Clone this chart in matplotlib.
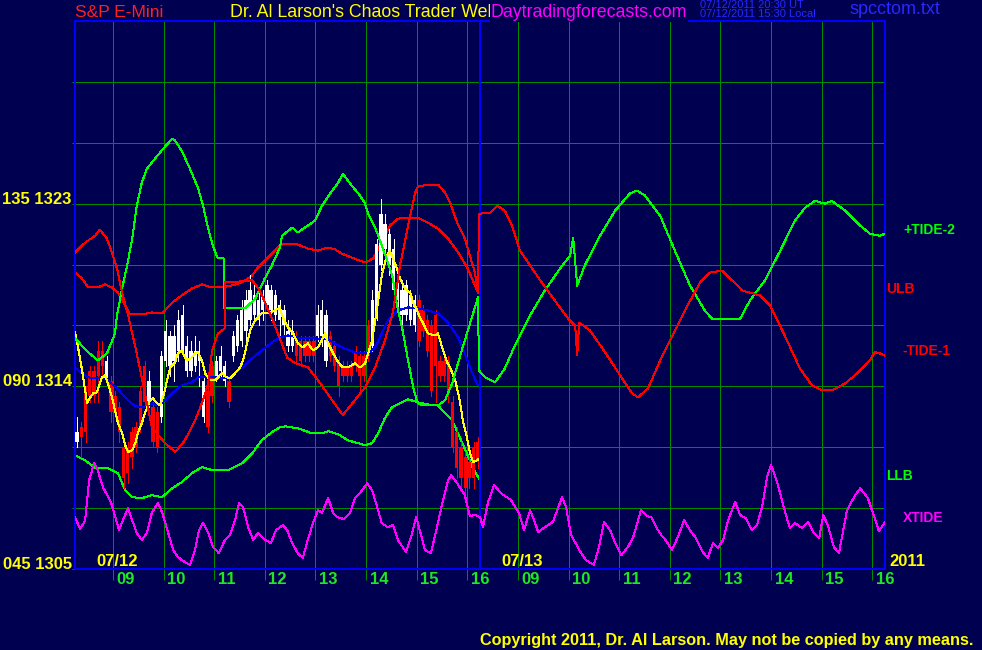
import matplotlib
matplotlib.use("Agg")
import matplotlib.pyplot as plt
from matplotlib.transforms import blended_transform_factory

plt.rcParams['font.family'] = ['Liberation Sans', 'DejaVu Sans']

# ---------------- data ----------------
# Session time axis in hours: 07/12 runs 08.25-16.25, 07/13 continues 16.25-24.25
# (07/13 clock hour = value - 8).
hour_labels = ['09', '10', '11', '12', '13', '14', '15', '16']
day_labels = ['07/12', '07/13']
year_label = '2011'
price_levels = [1305, 1314, 1323]
tide_levels = [45, 90, 135]

# 5-minute price bars of 07/12 starting 08:15
bar_open = [1311.25, 1312.0, 1313.75, 1314.75, 1314.75, 1315.75, 1315.75, 1314.5, 1314.25, 1313.5,
            1313.0, 1311.0, 1311.0, 1311.75, 1312.0, 1313.75, 1315.0, 1313.25, 1313.0, 1312.75,
            1312.5, 1315.25, 1315.0, 1315.25, 1315.75, 1315.75, 1314.75, 1314.75, 1315.0, 1315.25,
            1312.5, 1313.75, 1315.0, 1314.5, 1314.75, 1314.25, 1314.25, 1315.5, 1316.0, 1316.25,
            1316.75, 1317.25, 1317.5, 1317.25, 1317.75, 1318.0, 1317.75, 1317.5, 1317.25, 1317.0,
            1316.0, 1316.0, 1316.5, 1316.25, 1316.25, 1316.25, 1316.25, 1316.5, 1316.5, 1315.25,
            1316.5, 1316.0, 1315.25, 1315.0, 1315.0, 1315.0, 1315.75, 1315.5, 1315.5, 1317.0,
            1316.0, 1317.5, 1320.0, 1320.75, 1320.0, 1318.75, 1318.25, 1317.5, 1317.5, 1317.25,
            1317.0, 1318.25, 1317.75, 1317.25, 1317.0, 1317.5, 1315.25, 1315.25, 1315.25, 1313.25,
            1311.75, 1311.0, 1310.5, 1310.25, 1311.0, 1311.25]
bar_high = [1312.5, 1312.25, 1314.0, 1315.0, 1315.0, 1316.25, 1316.25, 1315.5, 1314.5, 1313.75,
            1313.25, 1311.25, 1311.25, 1312.0, 1312.25, 1314.0, 1315.25, 1314.75, 1313.25, 1313.0,
            1315.75, 1317.25, 1316.75, 1317.0, 1317.75, 1318.0, 1316.5, 1316.25, 1316.5, 1316.25,
            1314.5, 1314.0, 1315.25, 1315.5, 1316.0, 1315.25, 1314.5, 1316.75, 1317.5, 1318.25,
            1318.75, 1319.5, 1319.0, 1318.75, 1318.75, 1319.25, 1319.0, 1318.75, 1318.25, 1318.0,
            1317.25, 1317.25, 1316.75, 1316.5, 1316.5, 1316.5, 1316.5, 1318.0, 1318.25, 1317.75,
            1316.75, 1316.25, 1315.5, 1315.25, 1315.25, 1315.25, 1316.0, 1315.75, 1315.75, 1317.25,
            1318.75, 1321.25, 1323.25, 1322.5, 1321.75, 1321.25, 1319.5, 1319.25, 1319.25, 1318.75,
            1318.5, 1318.5, 1318.0, 1317.5, 1317.25, 1317.75, 1315.5, 1315.5, 1315.5, 1313.5,
            1312.0, 1311.25, 1310.75, 1310.5, 1311.25, 1311.5]
bar_low = [1311.0, 1310.5, 1311.25, 1313.25, 1313.25, 1313.25, 1314.5, 1314.25, 1312.25, 1312.5,
           1311.25, 1309.0, 1309.25, 1310.0, 1310.75, 1311.75, 1313.0, 1313.0, 1311.0, 1310.75,
           1312.25, 1315.0, 1314.5, 1314.25, 1315.25, 1315.5, 1314.5, 1314.5, 1314.75, 1314.0,
           1312.25, 1311.75, 1313.25, 1314.25, 1314.5, 1314.0, 1313.0, 1315.25, 1315.75, 1316.0,
           1316.25, 1317.0, 1317.25, 1317.0, 1317.25, 1317.75, 1317.25, 1317.25, 1316.5, 1316.5,
           1315.75, 1315.75, 1315.25, 1315.0, 1315.25, 1315.25, 1315.25, 1316.25, 1316.0, 1315.0,
           1315.25, 1314.75, 1313.5, 1314.25, 1314.25, 1314.25, 1314.75, 1313.75, 1314.25, 1315.25,
           1315.75, 1317.25, 1319.75, 1320.25, 1319.5, 1318.25, 1317.75, 1317.0, 1317.25, 1317.0,
           1316.75, 1316.0, 1316.5, 1315.5, 1313.5, 1313.25, 1314.25, 1314.25, 1313.25, 1310.75,
           1309.5, 1309.0, 1308.75, 1309.0, 1309.0, 1310.0]
bar_close = [1311.75, 1311.5, 1311.75, 1313.5, 1313.5, 1314.5, 1315.0, 1315.25, 1312.75, 1312.75,
             1311.75, 1309.5, 1309.75, 1310.5, 1311.0, 1312.0, 1313.25, 1314.25, 1311.25, 1311.0,
             1315.5, 1316.75, 1316.5, 1316.5, 1317.25, 1317.5, 1316.0, 1315.75, 1315.75, 1315.5,
             1314.25, 1312.0, 1313.5, 1315.25, 1315.5, 1315.0, 1313.25, 1316.5, 1317.25, 1317.75,
             1318.25, 1318.75, 1318.5, 1318.25, 1318.5, 1319.0, 1318.75, 1318.5, 1318.0, 1317.75,
             1316.75, 1316.75, 1315.5, 1315.25, 1315.5, 1315.5, 1315.5, 1317.5, 1317.75, 1317.5,
             1315.5, 1315.0, 1314.0, 1314.5, 1314.5, 1314.5, 1315.0, 1314.5, 1314.5, 1315.5,
             1318.25, 1321.0, 1322.5, 1322.0, 1321.5, 1320.75, 1319.0, 1318.75, 1319.0, 1318.5,
             1318.25, 1316.25, 1316.75, 1315.75, 1313.75, 1315.0, 1314.5, 1314.5, 1313.75, 1311.0,
             1310.0, 1309.5, 1309.0, 1309.5, 1309.5, 1310.25]
BAR_START = 8.25
BAR_MINUTES = 5

yellow_t = [8.25, 8.31, 8.39, 8.49, 8.55, 8.61, 8.68, 8.78, 8.84, 8.90,
            8.98, 9.04, 9.10, 9.18, 9.24, 9.30, 9.38, 9.44, 9.49, 9.57,
            9.63, 9.73, 9.79, 9.87, 9.93, 9.99, 10.07, 10.13, 10.23, 10.28,
            10.36, 10.42, 10.48, 10.56, 10.62, 10.68, 10.76, 10.82, 10.92, 11.02,
            11.15, 11.25, 11.31, 11.41, 11.51, 11.57, 11.65, 11.71, 11.81, 11.86,
            11.94, 12.06, 12.20, 12.30, 12.34, 12.46, 12.56, 12.65, 12.75, 12.85,
            12.95, 13.05, 13.19, 13.25, 13.35, 13.45, 13.54, 13.64, 13.78, 13.88,
            13.98, 14.04, 14.12, 14.18, 14.24, 14.31, 14.41, 14.47, 14.53, 14.61,
            14.67, 14.77, 14.87, 14.93, 15.01, 15.06, 15.12, 15.22, 15.36, 15.42,
            15.52, 15.60, 15.66, 15.76, 15.85, 15.91, 15.99, 16.05, 16.11, 16.19,
            16.25]
yellow_v = [1316.66, 1315.92, 1314.79, 1313.16, 1313.46, 1313.66, 1313.70, 1314.44, 1314.54, 1314.15,
            1313.46, 1312.82, 1312.18, 1311.69, 1311.10, 1310.75, 1310.85, 1311.20, 1311.69, 1312.18,
            1312.67, 1313.31, 1313.41, 1313.16, 1313.07, 1313.46, 1314.30, 1314.93, 1315.18, 1315.62,
            1315.77, 1315.43, 1315.28, 1315.43, 1315.62, 1315.67, 1315.28, 1314.64, 1314.30, 1314.30,
            1314.64, 1314.44, 1314.39, 1314.64, 1314.93, 1315.28, 1316.12, 1316.75, 1317.25, 1317.39,
            1317.59, 1317.59, 1317.74, 1317.89, 1317.49, 1316.90, 1316.61, 1316.12, 1315.92, 1316.12,
            1315.77, 1315.92, 1316.61, 1316.12, 1315.62, 1315.18, 1314.93, 1314.93, 1315.13, 1314.93,
            1315.13, 1315.62, 1316.26, 1317.25, 1318.23, 1319.46, 1320.44, 1320.69, 1320.30, 1319.80,
            1319.31, 1318.82, 1318.62, 1318.13, 1317.74, 1317.39, 1317.15, 1316.61, 1316.51, 1316.61,
            1315.77, 1315.18, 1314.93, 1314.30, 1313.31, 1312.33, 1311.49, 1310.75, 1310.26, 1310.36,
            1310.46]

blue_t = [8.25, 8.39, 8.51, 8.70, 8.84, 8.94, 9.08, 9.20, 9.34, 9.44,
          9.63, 9.77, 9.89, 10.03, 10.17, 10.36, 10.56, 10.68, 10.82, 11.02,
          11.21, 11.35, 11.55, 11.75, 11.94, 12.14, 12.30, 12.46, 12.73, 12.99,
          13.25, 13.52, 13.78, 14.04, 14.18, 14.31, 14.43, 14.63, 14.83, 15.03,
          15.22, 15.42, 15.62, 15.82, 15.95, 16.09, 16.21]
blue_v = [1314.93, 1314.64, 1314.44, 1314.39, 1314.44, 1314.20, 1313.90, 1313.56, 1313.21, 1313.02,
          1312.97, 1313.16, 1313.07, 1313.31, 1313.66, 1314.05, 1314.20, 1314.44, 1314.44, 1314.44,
          1314.39, 1314.54, 1314.93, 1315.38, 1315.77, 1316.16, 1316.41, 1316.51, 1316.36, 1316.36,
          1316.31, 1315.92, 1315.67, 1315.62, 1315.92, 1316.61, 1317.25, 1317.74, 1317.89, 1317.84,
          1317.74, 1317.59, 1317.15, 1316.41, 1315.62, 1314.69, 1314.05]

ulb_t = [8.25, 8.39, 8.51, 8.70, 8.84, 8.98, 9.10, 9.24, 9.34, 9.57,
         9.77, 9.97, 10.17, 10.36, 10.56, 10.76, 10.96, 11.15, 11.35, 11.55,
         11.75, 11.86, 12.06, 12.30, 12.40, 12.60, 12.85, 13.05, 13.23, 13.39,
         13.52, 13.72, 13.98, 14.14, 14.31, 14.47, 14.63, 14.83, 15.03, 15.22,
         15.42, 15.62, 15.82, 16.01, 16.15, 16.21]
ulb_v = [1319.61, 1319.31, 1318.87, 1318.87, 1319.02, 1318.87, 1318.62, 1317.98, 1317.54, 1317.54,
         1317.64, 1317.59, 1318.13, 1318.48, 1318.82, 1319.02, 1318.87, 1318.87, 1318.97, 1319.12,
         1319.46, 1319.85, 1320.34, 1320.94, 1321.03, 1321.03, 1320.79, 1320.69, 1320.84, 1320.74,
         1320.54, 1320.34, 1320.10, 1320.30, 1321.08, 1321.92, 1322.26, 1322.31, 1322.31, 1322.07,
         1321.77, 1321.28, 1320.59, 1319.80, 1318.97, 1318.62]

llb_t = [8.25, 8.45, 8.65, 8.90, 9.10, 9.24, 9.38, 9.57, 9.77, 9.97,
         10.17, 10.36, 10.56, 10.76, 10.96, 11.27, 11.55, 11.75, 11.94, 12.14,
         12.30, 12.40, 12.65, 12.93, 13.13, 13.25, 13.45, 13.64, 13.98, 14.12,
         14.24, 14.37, 14.51, 14.71, 14.83, 15.03, 15.30, 15.42, 15.50, 15.70,
         15.85, 15.99, 16.11, 16.25]
llb_v = [1310.61, 1310.36, 1309.97, 1309.97, 1309.72, 1308.88, 1308.54, 1308.49, 1308.64, 1308.54,
         1308.98, 1309.28, 1309.72, 1310.02, 1309.87, 1309.87, 1310.21, 1310.70, 1311.34, 1311.74,
         1311.98, 1312.03, 1311.93, 1311.69, 1311.69, 1311.79, 1311.64, 1311.34, 1311.10, 1311.20,
         1311.69, 1312.43, 1312.97, 1313.21, 1313.36, 1313.21, 1313.07, 1313.07, 1312.82, 1312.33,
         1311.49, 1310.70, 1309.97, 1309.38]

# tide curves on the 045-180 tide scale
tide2_t = [8.25, 8.51, 8.70, 8.88, 9.04, 9.08, 9.18, 9.28, 9.38, 9.47,
           9.57, 9.67, 9.83, 9.99, 10.17, 10.23, 10.36, 10.52, 10.68, 10.78,
           10.88, 10.96, 11.06, 11.19, 11.20, 11.47, 11.61, 11.81, 12.00, 12.14,
           12.20, 12.30, 12.34, 12.54, 12.65, 12.99, 13.13, 13.29, 13.45, 13.54,
           13.72, 13.88, 13.98, 14.04, 14.18, 14.31, 14.43, 14.53, 14.61, 14.71,
           14.83, 14.93, 15.01, 15.10, 15.42, 15.56, 15.70, 15.89, 16.09, 16.19,
           16.21, 16.23, 16.35, 16.55, 16.74, 16.94, 17.24, 17.53, 17.83, 18.03,
           18.09, 18.17, 18.32, 18.62, 18.92, 19.21, 19.35, 19.51, 19.81, 20.10,
           20.40, 20.69, 20.83, 21.39, 21.58, 21.88, 22.18, 22.47, 22.67, 22.87,
           23.06, 23.20, 23.46, 23.76, 23.95, 24.15, 24.25]
tide2_v = [101.8, 98.4, 96.4, 98.1, 103.0, 107.5, 114.1, 119.8, 126.4, 134.5,
           140.2, 143.6, 146.1, 148.5, 151.0, 150.5, 148.0, 143.6, 138.9, 134.5,
           128.9, 125.2, 121.7, 121.5, 109.2, 109.4, 109.2, 111.6, 116.6, 119.8,
           121.5, 124.2, 127.1, 129.1, 127.9, 130.8, 134.5, 137.5, 140.2, 142.4,
           139.4, 137.0, 135.0, 132.5, 129.1, 124.7, 120.5, 116.6, 109.9, 104.5,
           96.4, 89.8, 86.1, 85.3, 85.3, 86.6, 90.7, 98.9, 107.0, 111.1,
           111.9, 93.9, 92.2, 91.0, 94.4, 100.1, 107.5, 113.6, 119.0, 122.2,
           126.6, 114.8, 119.8, 127.1, 133.3, 137.5, 138.2, 137.0, 132.0, 123.4,
           114.8, 108.7, 106.7, 106.7, 111.1, 116.1, 123.4, 130.8, 134.0, 135.7,
           135.0, 135.7, 133.3, 129.6, 127.6, 127.1, 127.6]

tide1_t = [8.25, 8.45, 8.65, 8.74, 8.88, 8.98, 9.08, 9.18, 9.30, 9.47,
           9.63, 9.77, 10.03, 10.23, 10.42, 10.62, 10.78, 10.88, 10.96, 11.07,
           11.21, 11.22, 11.47, 11.75, 11.90, 12.16, 12.44, 12.60, 12.85, 13.05,
           13.33, 13.54, 13.78, 13.98, 14.18, 14.37, 14.53, 14.67, 14.83, 14.97,
           15.03, 15.42, 15.56, 15.66, 15.80, 15.95, 16.15, 16.21, 16.23, 16.45,
           16.59, 16.74, 16.88, 17.04, 17.24, 17.44, 17.73, 17.99, 18.13, 18.17,
           18.21, 18.42, 18.72, 19.02, 19.25, 19.37, 19.57, 19.81, 20.10, 20.40,
           20.60, 20.79, 21.03, 21.23, 21.43, 21.58, 21.78, 21.98, 22.27, 22.57,
           22.81, 23.01, 23.20, 23.46, 23.72, 23.95, 24.05, 24.15, 24.25]
tide1_v = [123.0, 125.4, 127.1, 128.6, 126.4, 123.0, 119.0, 113.1, 107.5, 98.1,
           88.3, 79.9, 76.0, 73.8, 76.7, 81.6, 86.6, 90.7, 98.9, 103.0,
           104.3, 115.8, 115.8, 116.1, 113.6, 106.2, 97.1, 95.7, 94.7, 91.5,
           86.6, 82.9, 86.6, 89.8, 94.7, 101.3, 108.2, 119.8, 129.6, 137.7,
           139.4, 139.7, 137.7, 135.2, 130.3, 126.4, 118.0, 113.1, 132.5, 132.8,
           134.5, 133.3, 129.6, 123.4, 119.8, 116.1, 111.1, 106.7, 105.0, 97.6,
           105.7, 103.8, 98.4, 92.7, 88.3, 87.3, 89.5, 96.4, 103.8, 111.1,
           115.6, 118.0, 118.5, 116.1, 113.6, 113.1, 112.4, 109.9, 102.5, 94.4,
           90.2, 89.0, 89.0, 90.7, 93.4, 96.4, 98.4, 98.1, 97.6]

xtide_t = [8.25, 8.35, 8.45, 8.53, 8.63, 8.70, 8.80, 8.96, 9.12, 9.22,
           9.30, 9.38, 9.47, 9.57, 9.67, 9.77, 9.89, 9.97, 10.09, 10.19,
           10.28, 10.38, 10.52, 10.62, 10.70, 10.78, 10.88, 10.98, 11.09, 11.21,
           11.31, 11.41, 11.49, 11.57, 11.67, 11.77, 11.86, 11.98, 12.12, 12.22,
           12.36, 12.44, 12.54, 12.65, 12.75, 12.83, 12.95, 13.05, 13.13, 13.25,
           13.35, 13.43, 13.56, 13.68, 13.78, 13.88, 14.02, 14.12, 14.22, 14.31,
           14.43, 14.53, 14.63, 14.79, 14.89, 14.99, 15.06, 15.16, 15.28, 15.40,
           15.52, 15.62, 15.68, 15.80, 15.95, 16.05, 16.15, 16.25, 16.31, 16.41,
           16.53, 16.66, 16.86, 17.02, 17.12, 17.24, 17.32, 17.40, 17.53, 17.69,
           17.87, 17.95, 18.05, 18.21, 18.34, 18.50, 18.60, 18.70, 18.82, 18.92,
           19.04, 19.17, 19.27, 19.43, 19.55, 19.63, 19.73, 19.83, 19.92, 20.04,
           20.16, 20.28, 20.42, 20.50, 20.65, 20.75, 20.85, 20.95, 21.05, 21.15,
           21.29, 21.39, 21.50, 21.62, 21.72, 21.82, 21.92, 22.00, 22.12, 22.25,
           22.37, 22.47, 22.61, 22.73, 22.83, 22.95, 23.03, 23.12, 23.24, 23.34,
           23.50, 23.66, 23.76, 23.91, 24.07, 24.13, 24.25]
xtide_v = [57.8, 54.8, 57.0, 66.9, 71.1, 69.3, 65.2, 61.5, 54.6, 57.8,
           60.0, 57.0, 53.9, 52.1, 53.9, 59.0, 61.2, 59.0, 53.9, 49.7,
           48.0, 47.0, 46.0, 49.7, 54.6, 56.3, 53.9, 50.4, 48.9, 52.1,
           53.4, 57.0, 61.2, 60.2, 55.3, 52.1, 53.9, 52.4, 51.4, 54.6,
           55.8, 54.6, 51.4, 48.9, 47.7, 51.4, 56.3, 59.5, 58.8, 62.5,
           58.8, 57.8, 57.3, 58.8, 62.5, 63.7, 66.1, 64.4, 60.2, 56.3,
           55.3, 55.8, 52.1, 49.2, 52.9, 57.8, 54.6, 49.7, 48.9, 55.3,
           62.0, 66.9, 68.1, 66.1, 63.2, 58.0, 58.3, 57.8, 55.3, 61.5,
           65.7, 63.7, 62.0, 58.8, 54.6, 59.5, 57.0, 54.1, 55.3, 56.6,
           62.7, 60.2, 53.4, 49.7, 47.2, 46.0, 50.4, 56.6, 54.6, 51.4,
           48.4, 50.4, 52.6, 59.5, 58.0, 57.8, 55.3, 53.4, 52.1, 49.7,
           52.9, 57.0, 54.1, 52.9, 49.2, 47.7, 51.4, 50.2, 52.1, 57.0,
           61.5, 58.3, 57.5, 54.6, 55.8, 60.2, 67.6, 70.6, 66.4, 60.2,
           55.1, 56.3, 55.1, 56.6, 54.1, 52.6, 58.3, 55.8, 50.4, 48.9,
           59.5, 63.2, 64.9, 62.5, 56.6, 54.3, 56.6]

# ---------------- style ----------------
BG = '#000050'
GRID = '#008c00'
FRAME = '#0000ff'
YEL = '#ffff00'
GRN = '#00ff00'
LBLGRN = '#20e820'
RED = '#ff0000'
MAG = '#ff00ff'

W, H = 982, 650
L, R, T, B = 75, 885, 21, 569
X0, X1 = 8.25, 24.25
DAY_SPLIT = 16.25
P0, P1 = 1305, 1332
T0, T1 = 45, 180

fig = plt.figure(figsize=(W / 100, H / 100), dpi=100)
fig.patch.set_facecolor(BG)
ax = fig.add_axes([L / W, 1 - B / H, (R - L) / W, (B - T) / H])
ax.set_facecolor(BG)
ax.set_xlim(X0, X1)
ax.set_ylim(P0, P1)
ax2 = ax.twinx()
ax2.set_ylim(T0, T1)
ax2.axis('off')

lw = 0.72
# grid
grid_prices = list(range(1308, 1332, 3))
for p in grid_prices:
    ax.axhline(p, color=GRID, lw=lw, zorder=0.5, antialiased=False)
hour_pos = [9, 10, 11, 12, 13, 14, 15, 16, 17, 18, 19, 20, 21, 22, 23, 24]
for hx in hour_pos:
    ax.axvline(hx, color=GRID, lw=lw, zorder=0.5, antialiased=False)
ax.set_xticks(hour_pos)
ax.tick_params(axis='x', direction='out', length=8, width=0.72, color=GRID, labelbottom=False)
ax.set_yticks([1305] + grid_prices)
ax.tick_params(axis='y', direction='out', length=2.5, width=0.72, color=GRID, labelleft=False)
for s in ax.spines.values():
    s.set_color(FRAME)
    s.set_linewidth(1.44)
ax.axvline(DAY_SPLIT, color=FRAME, lw=1.44, zorder=6)

# tides
ax2.plot(xtide_t, xtide_v, color=MAG, lw=lw, antialiased=False, zorder=2)
ax2.plot(tide2_t, tide2_v, color=GRN, lw=lw, antialiased=False, zorder=2)
ax2.plot(tide1_t, tide1_v, color=RED, lw=lw, antialiased=False, zorder=2)

# bands
ax.plot(ulb_t, ulb_v, color=RED, lw=lw, antialiased=False, zorder=2)
ax.plot(llb_t, llb_v, color=GRN, lw=lw, antialiased=False, zorder=2)

# price bars
bt = [BAR_START + (i + 0.5) * BAR_MINUTES / 60 for i in range(len(bar_open))]
for t, o, h, l, c in zip(bt, bar_open, bar_high, bar_low, bar_close):
    col = '#ffffff' if c >= o else RED
    ax.vlines(t, l, h, color=col, lw=0.72, antialiased=False, zorder=3)
    lo, hi = min(o, c), max(o, c)
    if hi - lo < 0.15:
        hi = lo + 0.15
    ax.bar(t, hi - lo, bottom=lo, width=3.4 / 50.6, color=col, lw=0, zorder=3,
           antialiased=False)

ax.plot(blue_t, blue_v, color='#0000ff', lw=lw, antialiased=False, zorder=4)
ax.plot(yellow_t, yellow_v, color=YEL, lw=lw, antialiased=False, zorder=5)

# axis labels
bt_x = blended_transform_factory(ax.transData, ax.transAxes)
bt_y = blended_transform_factory(ax.transAxes, ax.transData)
lbl_font = dict(fontsize=12, fontweight='bold')
for i, lab in enumerate(hour_labels * 2):
    ax.text(hour_pos[i] + 0.07, -0.006, lab, transform=bt_x, ha='left', va='top',
            color=LBLGRN, clip_on=False, **lbl_font)
for tl, pl in zip(tide_levels, price_levels):
    ax.text(-0.004, pl, f"{tl:03d} {pl}", transform=bt_y, ha='right', va='baseline',
            color=YEL, clip_on=False, **lbl_font)
ax.text(X0 + 0.43, 0.005, day_labels[0], transform=bt_x, ha='left', va='baseline',
        color=YEL, **lbl_font)
ax.text(DAY_SPLIT + 0.43, 0.005, day_labels[1], transform=bt_x, ha='left', va='baseline',
        color=YEL, **lbl_font)
ax.text(1.005, 0.005, year_label, transform=ax.transAxes, ha='left', va='baseline',
        color=YEL, clip_on=False, **lbl_font)

# series end labels
def end_label(axis, text, color, value, dx_px):
    axis.annotate(text, xy=(1, value), xycoords=('axes fraction', 'data'),
                  xytext=(dx_px * 0.72, 4 * 0.72), textcoords='offset points',
                  ha='left', va='center', color=color, fontsize=10, fontweight='bold',
                  annotation_clip=False)

end_label(ax2, '+TIDE-2', GRN, tide2_v[-1], 18)
end_label(ax, 'ULB', RED, ulb_v[-1], 1)
end_label(ax2, '-TIDE-1', RED, tide1_v[-1], 18)
end_label(ax, 'LLB', GRN, llb_v[-1], 1)
end_label(ax2, 'XTIDE', MAG, xtide_v[-1], 18)

# header
def ftext(x, y, s, **kw):
    return fig.text(x / W, 1 - y / H, s, **kw)

ftext(75, 17, 'S&P E-Mini', color='#ff2020', fontsize=12.5, va='baseline')
ftext(230, 17, "Dr. Al Larson's Chaos Trader Web", color=YEL, fontsize=12.8, va='baseline')
ftext(491, 17, 'Daytradingforecasts.com', color=MAG, fontsize=12.8, va='baseline',
      bbox=dict(facecolor=BG, edgecolor='none', pad=0.5))
ftext(700, 8.5, '07/12/2011 20:30 UT', color='#2828ff', fontsize=8, va='baseline')
ftext(700, 17, '07/12/2011 15:30 Local', color='#2828ff', fontsize=8, va='baseline')
ftext(850, 14, 'spcctom.txt', color='#2828ff', fontsize=13, va='baseline')
ftext(480, 645, 'Copyright 2011, Dr. Al Larson. May not be copied by any means.',
      color=YEL, fontsize=11.7, fontweight='bold', va='baseline')

fig.savefig('out.png', dpi=100, facecolor=BG)
